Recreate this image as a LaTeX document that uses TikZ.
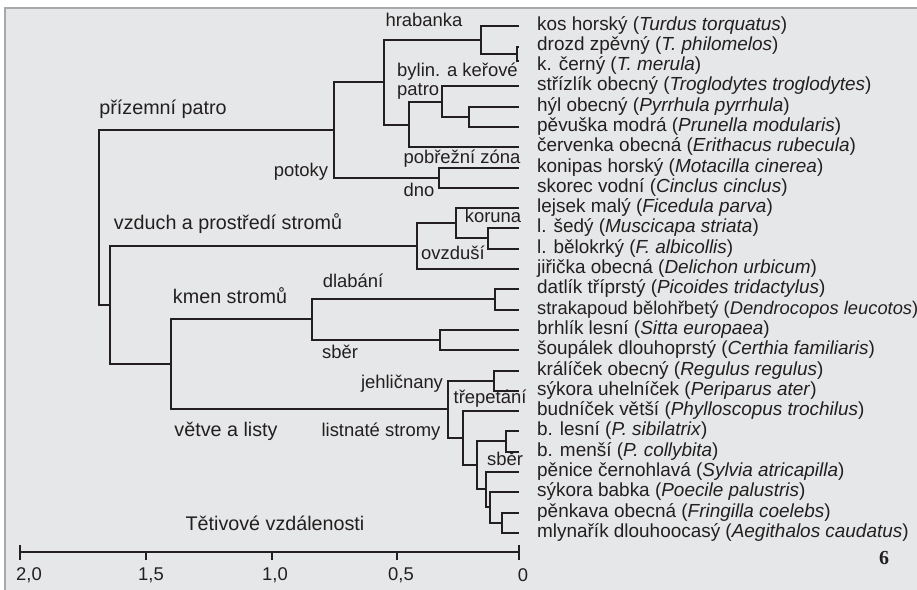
\documentclass[tikz,border=0pt]{standalone}
\usepackage{fontspec}
\setmainfont{Liberation Sans}
\newfontfamily\platefont{Liberation Serif}
\usepackage{tikz}
\usetikzlibrary{positioning}
\definecolor{PanelGray}{HTML}{E6E7E8}
\definecolor{FrameGray}{HTML}{A7A9AC}
\definecolor{InkDark}{HTML}{231F20}

\begin{document}
\begin{tikzpicture}[
    x=1bp, y=-1bp,
    branch/.style={InkDark, line width=2bp},
    species/.style={anchor=west, inner sep=0pt, text=InkDark, text height=14pt, text depth=4pt,
                    font=\fontsize{19}{21}\selectfont},
    habitat/.style={inner sep=0pt, text=InkDark, text height=14pt, text depth=4pt,
                    font=\fontsize{19.8}{22}\selectfont},
    niche/.style={inner sep=0pt, text=InkDark, text height=14pt, text depth=4pt,
                  font=\fontsize{18.5}{20}\selectfont},
    ticklabel/.style={inner sep=0pt, text=InkDark, font=\fontsize{18.5}{20}\selectfont}
]
    \useasboundingbox (0,0) rectangle (917,590);

    % Panel
    \fill[PanelGray] (5,8) rectangle (917,590);
    \draw[FrameGray, line width=1.2bp] (5,590) -- (5,8) -- (917,8);

    % Leaf ends
    \coordinate (kos) at (519,26);
    \coordinate (drozd) at (519,47);
    \coordinate (cerny) at (519,61);
    \coordinate (strizlik) at (519,86);
    \coordinate (hyl) at (519,107);
    \coordinate (pevuska) at (519,127);
    \coordinate (cervenka) at (519,147);
    \coordinate (konipas) at (519,168);
    \coordinate (skorec) at (519,188);
    \coordinate (lejsek) at (519,208);
    \coordinate (sedy) at (519,228);
    \coordinate (belokrky) at (519,249);
    \coordinate (jiricka) at (519,269);
    \coordinate (datlik) at (519,289);
    \coordinate (strakapoud) at (519,310);
    \coordinate (brhlik) at (519,330);
    \coordinate (soupalek) at (519,350);
    \coordinate (kralicek) at (519,371);
    \coordinate (uhelnicek) at (519,391);
    \coordinate (budnicek) at (519,411);
    \coordinate (lesni) at (519,431);
    \coordinate (mensi) at (519,452);
    \coordinate (penice) at (519,472);
    \coordinate (babka) at (519,492);
    \coordinate (penkava) at (519,513);
    \coordinate (mlynarik) at (519,533);

    % Species names
    \node[species, right=18bp of kos] (kos-t) {kos horský (\textit{Turdus torquatus})};
    \node[species] (drozd-t) at (537,46) {drozd zpěvný (\textit{T. philomelos})};
    \node[species] (cerny-t) at (537,66) {k. černý (\textit{T. merula})};
    \node[species, right=18bp of strizlik] (strizlik-t) {střízlík obecný (\textit{Troglodytes troglodytes})};
    \node[species, right=18bp of hyl] (hyl-t) {hýl obecný (\textit{Pyrrhula pyrrhula})};
    \node[species, right=18bp of pevuska] (pevuska-t) {pěvuška modrá (\textit{Prunella modularis})};
    \node[species, right=18bp of cervenka] (cervenka-t) {červenka obecná (\textit{Erithacus rubecula})};
    \node[species, right=18bp of konipas] (konipas-t) {konipas horský (\textit{Motacilla cinerea})};
    \node[species, right=18bp of skorec] (skorec-t) {skorec vodní (\textit{Cinclus cinclus})};
    \node[species, right=18bp of lejsek] (lejsek-t) {lejsek malý (\textit{Ficedula parva})};
    \node[species, right=18bp of sedy] (sedy-t) {l. šedý (\textit{Muscicapa striata})};
    \node[species, right=18bp of belokrky] (belokrky-t) {l. bělokrký (\textit{F. albicollis})};
    \node[species, right=18bp of jiricka] (jiricka-t) {jiřička obecná (\textit{Delichon urbicum})};
    \node[species, right=18bp of datlik] (datlik-t) {datlík tříprstý (\textit{Picoides tridactylus})};
    \node[species, right=18bp of strakapoud, font=\fontsize{18.4}{21}\selectfont] (strakapoud-t) {strakapoud bělohřbetý (\textit{Dendrocopos leucotos})};
    \node[species, right=18bp of brhlik] (brhlik-t) {brhlík lesní (\textit{Sitta europaea})};
    \node[species, right=18bp of soupalek] (soupalek-t) {šoupálek dlouhoprstý (\textit{Certhia familiaris})};
    \node[species, right=18bp of kralicek] (kralicek-t) {králíček obecný (\textit{Regulus regulus})};
    \node[species, right=18bp of uhelnicek] (uhelnicek-t) {sýkora uhelníček (\textit{Periparus ater})};
    \node[species, right=18bp of budnicek] (budnicek-t) {budníček větší (\textit{Phylloscopus trochilus})};
    \node[species, right=18bp of lesni] (lesni-t) {b. lesní (\textit{P. sibilatrix})};
    \node[species, right=18bp of mensi] (mensi-t) {b. menší (\textit{P. collybita})};
    \node[species, right=18bp of penice] (penice-t) {pěnice černohlavá (\textit{Sylvia atricapilla})};
    \node[species, right=18bp of babka] (babka-t) {sýkora babka (\textit{Poecile palustris})};
    \node[species, right=18bp of penkava] (penkava-t) {pěnkava obecná (\textit{Fringilla coelebs})};
    \node[species, right=18bp of mlynarik] (mlynarik-t) {mlynařík dlouhoocasý (\textit{Aegithalos caudatus})};

    % Clusters
    \coordinate (root) at (99,218);
    \coordinate (prizemni) at (334,130);
    \coordinate (hrabbylin) at (384,82);
    \coordinate (hrab) at (481,40);
    \coordinate (turdus) at (517,54);
    \coordinate (bylin) at (409,125);
    \coordinate (trog) at (442,102);
    \coordinate (prun) at (469,117);
    \coordinate (potoky) at (439,178);
    \coordinate (vzdkmen) at (110,305);
    \coordinate (vzduch) at (417,246);
    \coordinate (koruna) at (456,223);
    \coordinate (muscic) at (488,238);
    \coordinate (kmenvetve) at (171,364);
    \coordinate (kmen) at (312,319);
    \coordinate (dlab) at (495,299);
    \coordinate (sbera) at (440,340);
    \coordinate (vetve) at (448,409);
    \coordinate (jehl) at (494,381);
    \coordinate (trep) at (463,438);
    \coordinate (listn) at (477,465);
    \coordinate (sibil) at (506,441);
    \coordinate (sberb) at (486,489);
    \coordinate (poec) at (490,507);
    \coordinate (fring) at (502,523);

    % Branches
    \draw[branch] (root) |- (prizemni);
    \draw[branch] (root) |- (vzdkmen);
    \draw[branch] (prizemni) |- (hrabbylin);
    \draw[branch] (prizemni) |- (potoky);
    \draw[branch] (hrabbylin) |- (hrab);
    \draw[branch] (hrabbylin) |- (bylin);
    \draw[branch] (hrab) |- (kos);
    \draw[branch] (hrab) |- (turdus);
    \draw[branch] (turdus) |- (drozd);
    \draw[branch] (turdus) |- (cerny);
    \draw[branch] (bylin) |- (trog);
    \draw[branch] (bylin) |- (cervenka);
    \draw[branch] (trog) |- (strizlik);
    \draw[branch] (trog) |- (prun);
    \draw[branch] (prun) |- (hyl);
    \draw[branch] (prun) |- (pevuska);
    \draw[branch] (potoky) |- (konipas);
    \draw[branch] (potoky) |- (skorec);
    \draw[branch] (vzdkmen) |- (vzduch);
    \draw[branch] (vzdkmen) |- (kmenvetve);
    \draw[branch] (vzduch) |- (koruna);
    \draw[branch] (vzduch) |- (jiricka);
    \draw[branch] (koruna) |- (lejsek);
    \draw[branch] (koruna) |- (muscic);
    \draw[branch] (muscic) |- (sedy);
    \draw[branch] (muscic) |- (belokrky);
    \draw[branch] (kmenvetve) |- (kmen);
    \draw[branch] (kmenvetve) |- (vetve);
    \draw[branch] (kmen) |- (dlab);
    \draw[branch] (kmen) |- (sbera);
    \draw[branch] (dlab) |- (datlik);
    \draw[branch] (dlab) |- (strakapoud);
    \draw[branch] (sbera) |- (brhlik);
    \draw[branch] (sbera) |- (soupalek);
    \draw[branch] (vetve) |- (jehl);
    \draw[branch] (vetve) |- (trep);
    \draw[branch] (jehl) |- (kralicek);
    \draw[branch] (jehl) |- (uhelnicek);
    \draw[branch] (trep) |- (budnicek);
    \draw[branch] (trep) |- (listn);
    \draw[branch] (listn) |- (sibil);
    \draw[branch] (listn) |- (sberb);
    \draw[branch] (sibil) |- (lesni);
    \draw[branch] (sibil) |- (mensi);
    \draw[branch] (sberb) |- (penice);
    \draw[branch] (sberb) |- (poec);
    \draw[branch] (poec) |- (babka);
    \draw[branch] (poec) |- (fring);
    \draw[branch] (fring) |- (penkava);
    \draw[branch] (fring) |- (mlynarik);

    % Habitat labels
    \node[habitat] (prizemni-l) at (163,110) {přízemní patro};
    \node[habitat] (vzduch-l) at (228,225) {vzduch a prostředí stromů};
    \node[habitat] (kmen-l) at (230,299) {kmen stromů};
    \node[habitat] (vetve-l) at (226,432) {větve a listy};
    \node[niche] (hrab-l) at (424,22) {hrabanka};
    \node[niche, anchor=north west, align=left, text height=, text depth=,
          font=\fontsize{18.5}{19}\selectfont] (bylin-l) at (397,63) {bylin. a keřové\\patro};
    \node[niche] (potoky-l) at (301,172) {potoky};
    \node[niche] (pobrezni-l) at (462,159) {pobřežní zóna};
    \node[niche] (dno-l) at (419,192) {dno};
    \node[niche] (koruna-l) at (493,218) {koruna};
    \node[niche] (ovzdusi-l) at (453,255) {ovzduší};
    \node[niche] (dlab-l) at (353,283) {dlabání};
    \node[niche] (sbera-l) at (340,354) {sběr};
    \node[niche] (jehl-l) at (402,384) {jehličnany};
    \node[niche] (trep-l) at (490,399) {třepetání};
    \node[niche] (listn-l) at (381,432) {listnaté stromy};
    \node[niche] (sberb-l) at (505,461) {sběr};

    % Distance axis
    \coordinate (ax20) at (20,552);
    \coordinate (ax15) at (146,552);
    \coordinate (ax10) at (272,552);
    \coordinate (ax05) at (397,552);
    \coordinate (ax00) at (519,552);
    \draw[branch] (ax20) -- (ax00);
    \draw[branch] (ax20) ++(0,-7) -- ++(0,15);
    \draw[branch] (ax00) ++(0,-7) -- ++(0,15);
    \draw[branch] (ax15) -- ++(0,8);
    \draw[branch] (ax10) -- ++(0,8);
    \draw[branch] (ax05) -- ++(0,8);
    \node[ticklabel] (l20) at (29,575) {2,0};
    \node[ticklabel] (l15) at (151,575) {1,5};
    \node[ticklabel] (l10) at (275,575) {1,0};
    \node[ticklabel] (l05) at (401,575) {0,5};
    \node[ticklabel] (l00) at (523,575) {0};
    \node[habitat] (axis-l) at (275,526) {Tětivové vzdálenosti};

    % Plate number
    \node[inner sep=0pt, text=InkDark, font={\platefont\bfseries\fontsize{20}{22}\selectfont}] (plate) at (884,558) {6};
\end{tikzpicture}
\end{document}
